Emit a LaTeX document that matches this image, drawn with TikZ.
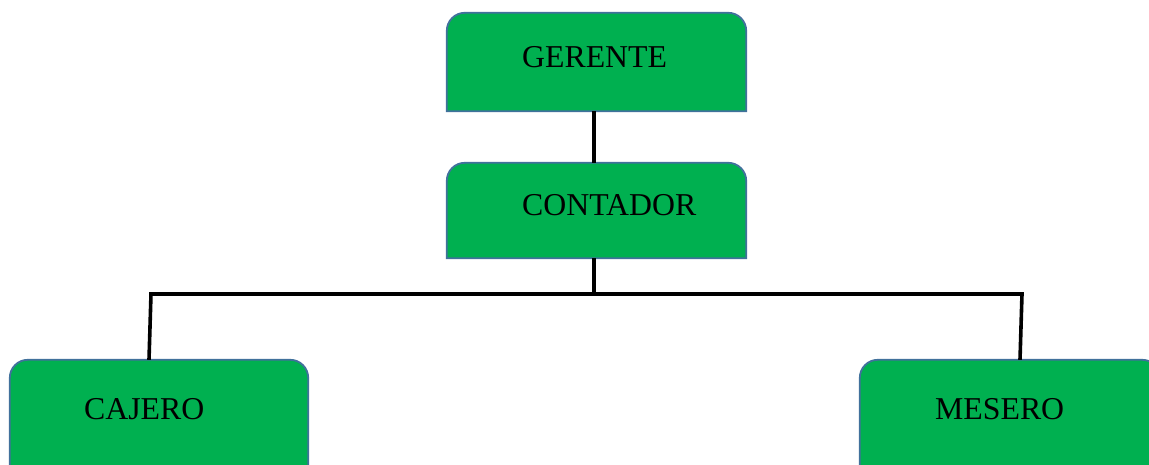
\documentclass[tikz,border=0pt]{standalone}
\usepackage{fontspec}
\setmainfont{Liberation Serif}
\definecolor{boxgreen}{HTML}{00B050}
\definecolor{boxedge}{HTML}{41719C}
\tikzset{
  boxshape/.style={fill=boxgreen, draw=boxedge, line width=1.8pt},
  boxnode/.style={draw=none, inner sep=0pt, minimum width=299pt},
  label text/.style={inner sep=0pt, anchor=base west, font=\fontsize{31.8}{38}\selectfont},
  link/.style={draw=black, line width=3.6pt}
}
\newcommand{\topround}[1]{%
  \path[boxshape] (#1.south west) -- ([yshift=-18pt]#1.north west)
    arc[start angle=180, end angle=90, radius=18pt]
    -- ([xshift=-18pt]#1.north east)
    arc[start angle=90, end angle=0, radius=18pt]
    -- (#1.south east) -- cycle;}
\begin{document}
\begin{tikzpicture}[x=1pt,y=1pt]
\clip (0,0) rectangle (1149,464);
\fill[white] (0,0) rectangle (1149,464);
% box nodes
\node[boxnode, minimum height=98pt] (g) at (596.5,402) {};
\node[boxnode, minimum height=95pt] (c) at (596.5,253.5) {};
\node[boxnode, minimum width=298pt, minimum height=116pt] (caj) at (159,46) {};
\node[boxnode, minimum width=300pt, minimum height=116pt] (mes) at (1010,46) {};
\topround{g}
\topround{c}
\topround{caj}
\topround{mes}
% texts
\node[label text] (gt) at (522,396) {GERENTE};
\node[label text] (ct) at (522,248) {CONTADOR};
\node[label text] (cajt) at (84,45) {CAJERO};
\node[label text] (mest) at (935,45) {MESERO};
% connectors
\coordinate (hl) at (151,170);
\coordinate (hr) at (1022,170);
\coordinate (hm) at (594,170);
\draw[link] ([xshift=-2.5pt]g.south) -- ([xshift=-2.5pt]c.north);
\draw[link] ([xshift=-2.5pt]c.south) -- (hm);
\draw[link, line cap=rect] (hl) -- (hr);
\draw[link] (hl) -- ([xshift=-10pt]caj.north);
\draw[link] (hr) -- ([xshift=10pt]mes.north);
\end{tikzpicture}
\end{document}
